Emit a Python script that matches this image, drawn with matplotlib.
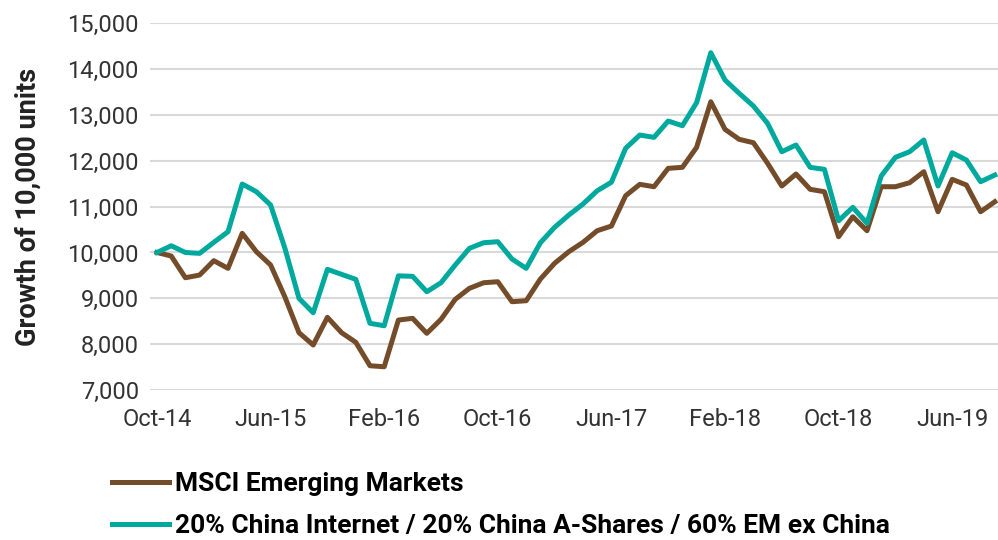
import matplotlib.pyplot as plt
import pandas as pd

plt.rcParams['font.family'] = ['Roboto', 'DejaVu Sans']

# Monthly index values, Oct-14 to Sep-19
months = pd.date_range("2014-10-01", periods=60, freq="MS")

msci_em = [
    10000, 9923, 9449, 9508, 9821, 9654, 10418, 10017, 9727, 9035,
    8250, 7981, 8585, 8250, 8040, 7529, 7507, 8526, 8563, 8236,
    8541, 8977, 9218, 9340, 9362, 8926, 8948, 9421, 9764, 10017,
    10221, 10475, 10577, 11238, 11487, 11435, 11836, 11858, 12294, 13289,
    12687, 12469, 12395, 11945, 11450, 11712, 11378, 11326, 10344, 10780,
    10475, 11435, 11435, 11522, 11762, 10889, 11596, 11472, 10889, 11107,
]

china_mix = [
    10000, 10147, 10000, 9981, 10221, 10453, 11494, 11326, 11036, 10100,
    9000, 8685, 9632, 9523, 9414, 8454, 8402, 9490, 9480, 9144,
    9340, 9726, 10090, 10213, 10235, 9857, 9654, 10213, 10549, 10817,
    11057, 11347, 11533, 12272, 12563, 12512, 12868, 12766, 13268, 14359,
    13763, 13473, 13196, 12817, 12198, 12345, 11858, 11814, 10693, 10985,
    10636, 11668, 12076, 12198, 12454, 11450, 12176, 12017, 11544, 11690,
]

labels = ["MSCI Emerging Markets",
          "20% China Internet / 20% China A-Shares / 60% EM ex China"]
colors = ["#754C29", "#00A99D"]

tick_idx = list(range(0, 60, 8))
tick_labels = [months[i].strftime("%b-%y") for i in tick_idx]
yticks = list(range(7000, 15001, 1000))

fig = plt.figure(figsize=(9.98, 5.4), dpi=100)
ax = fig.add_axes([0.1502, 0.2778, 0.8537, 0.679])

x = list(range(len(months)))
ax.plot(x, msci_em, color=colors[0], linewidth=3.6, label=labels[0])
ax.plot(x, china_mix, color=colors[1], linewidth=3.6, label=labels[1])

ax.set_xlim(-0.5, 59.5)
ax.set_ylim(7000, 15000)
ax.set_yticks(yticks)
ax.set_yticklabels([f"{v:,}" for v in yticks])
ax.set_xticks(tick_idx)
ax.set_xticklabels(tick_labels)
ax.tick_params(length=0, labelsize=17, colors="#333333", pad=8)
ax.tick_params(axis="x", pad=13)
ax.grid(axis="y", color="#D9D9D9", linewidth=1.5)
ax.set_axisbelow(True)
for s in ax.spines.values():
    s.set_visible(False)

fig.text(28 / 998, 1 - 207 / 540, "Growth of 10,000 units", rotation=90,
         ha="center", va="center", fontsize=19.5, fontweight="bold", color="#222222")

fig.legend(loc="upper left", bbox_to_anchor=(112 / 998, 1 - 472 / 540),
           frameon=False, prop={"weight": "bold", "size": 19},
           handlelength=2.15, handletextpad=0.25, labelspacing=0.7,
           borderpad=0, borderaxespad=0)

fig.savefig("out.png", dpi=100)
